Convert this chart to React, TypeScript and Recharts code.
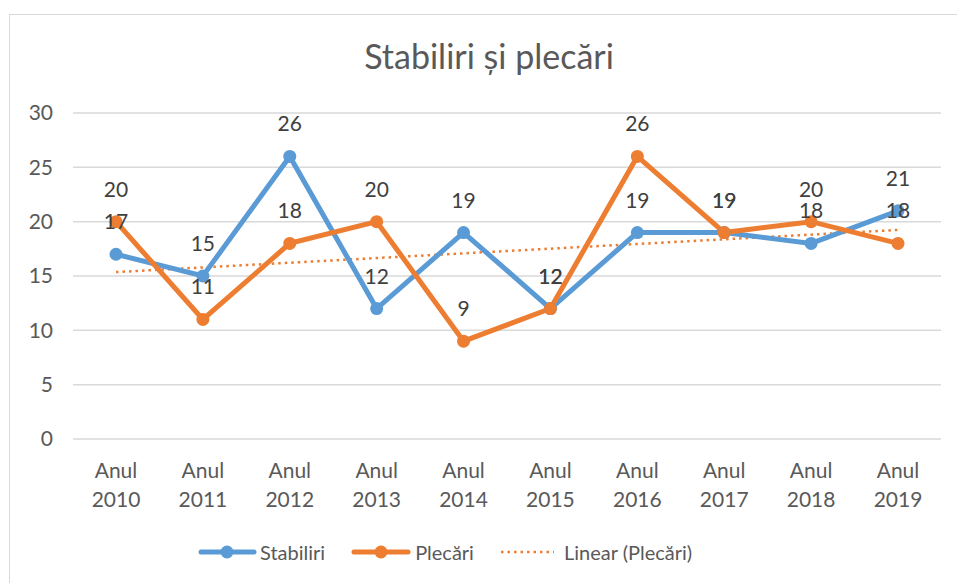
import React from 'react';
import { LineChart, Line, XAxis, YAxis, CartesianGrid, Legend, LabelList, ReferenceLine } from 'recharts';

const years = ['Anul 2010', 'Anul 2011', 'Anul 2012', 'Anul 2013', 'Anul 2014', 'Anul 2015', 'Anul 2016', 'Anul 2017', 'Anul 2018', 'Anul 2019'];
const stabiliri = [17, 15, 26, 12, 19, 12, 19, 19, 18, 21];
const plecari = [20, 11, 18, 20, 9, 12, 26, 19, 20, 18];
// linear trend of Plecări, start / end values
const trendEnds = [15.36, 19.24];
const yTicks = [0, 5, 10, 15, 20, 25, 30];

const data = years.map((year, i) => ({ year, stabiliri: stabiliri[i], plecari: plecari[i] }));

const FONT = 'Lato, "Open Sans", sans-serif';
const BLUE = '#5B9BD5';
const ORANGE = '#ED7D31';

const YearTick = (props: any) => {
  const { x, y, payload } = props;
  const [a, b] = String(payload.value).split(' ');
  return (
    <g>
      <text x={x} y={y + 39} textAnchor="middle" fill="#595959" fontSize={21} fontFamily={FONT}>{a}</text>
      <text x={x} y={y + 68} textAnchor="middle" fill="#595959" fontSize={21} fontFamily={FONT}>{b}</text>
    </g>
  );
};

const renderLabel = (props: any) => {
  const { x, y, value } = props;
  return (
    <text x={x} y={y - 25} textAnchor="middle" fill="#404040" fontSize={21} fontFamily={FONT}>{value}</text>
  );
};

const LegendContent = () => {
  const item = { display: 'flex', alignItems: 'center', marginRight: 26 } as const;
  const txt = { color: '#595959', fontSize: 20, fontFamily: FONT } as const;
  return (
    <div style={{ display: 'flex', alignItems: 'center', height: 30 }}>
      <div style={item}>
        <svg width={59} height={14}><line x1={3} y1={7} x2={56} y2={7} stroke={BLUE} strokeWidth={5} strokeLinecap="round" /><circle cx={29} cy={7} r={6.5} fill={BLUE} /></svg>
        <span style={{ ...txt, marginLeft: 3 }}>Stabiliri</span>
      </div>
      <div style={item}>
        <svg width={60} height={14}><line x1={3} y1={7} x2={57} y2={7} stroke={ORANGE} strokeWidth={5} strokeLinecap="round" /><circle cx={30} cy={7} r={6.5} fill={ORANGE} /></svg>
        <span style={{ ...txt, marginLeft: 4 }}>Plecări</span>
      </div>
      <div style={item}>
        <svg width={54} height={14}><line x1={1} y1={7} x2={54} y2={7} stroke={ORANGE} strokeWidth={2.5} strokeDasharray="2.5 4" /></svg>
        <span style={{ ...txt, marginLeft: 10 }}>Linear (Plecări)</span>
      </div>
    </div>
  );
};

export default function App() {
  return (
    <div style={{ position: 'absolute', left: 0, top: 0, width: 957, height: 583, background: '#fff', overflow: 'hidden' }}>
      <div style={{ position: 'absolute', left: 9, top: 14, width: 1000, height: 700, border: '1.5px solid #d9d9d9' }} />
      <div style={{ position: 'absolute', left: 0, top: 36, width: 978, textAlign: 'center', color: '#595959', fontSize: 34, fontFamily: FONT, lineHeight: '40px' }}>
        Stabiliri și plecări
      </div>
      <LineChart width={957} height={583} data={data} margin={{ top: 113, right: 16, bottom: 39, left: 0 }} style={{ position: 'absolute', left: 0, top: 0 }}>
        <CartesianGrid vertical={false} stroke="#d9d9d9" strokeWidth={1.5} />
        <XAxis dataKey="year" axisLine={false} tickLine={false} tickSize={0} tickMargin={0} height={75} padding={{ left: 43, right: 43 }} tick={<YearTick />} interval={0} />
        <YAxis domain={[0, 30]} ticks={yTicks} axisLine={false} tickLine={false} tickSize={0} tickMargin={20} width={73} tick={{ fill: '#595959', fontSize: 21, fontFamily: FONT }} />
        <Legend verticalAlign="bottom" content={<LegendContent />} wrapperStyle={{ left: 198, top: 537, width: 'auto' }} />
        <ReferenceLine segment={[{ x: years[0], y: trendEnds[0] }, { x: years[years.length - 1], y: trendEnds[1] }]} stroke={ORANGE} strokeWidth={2.5} strokeDasharray="2.5 4" />
        <Line dataKey="stabiliri" name="Stabiliri" stroke={BLUE} strokeWidth={5} dot={{ r: 6.5, fill: BLUE, stroke: BLUE, strokeWidth: 0 }} isAnimationActive={false}>
          <LabelList dataKey="stabiliri" content={renderLabel} />
        </Line>
        <Line dataKey="plecari" name="Plecări" stroke={ORANGE} strokeWidth={5} dot={{ r: 6.5, fill: ORANGE, stroke: ORANGE, strokeWidth: 0 }} isAnimationActive={false}>
          <LabelList dataKey="plecari" content={renderLabel} />
        </Line>
      </LineChart>
    </div>
  );
}
